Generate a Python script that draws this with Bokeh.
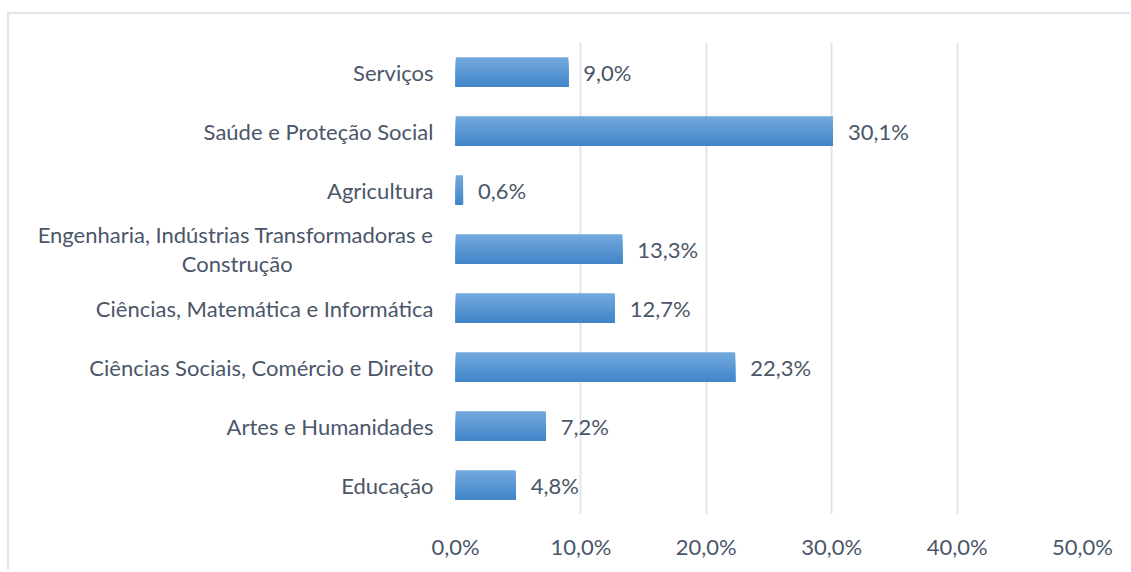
from bokeh.plotting import figure
from bokeh.models import ColumnDataSource, Range1d, FactorRange, FixedTicker, LabelSet
from bokeh.transform import dodge
from bokeh.embed import file_html
from bokeh.resources import INLINE
from bokeh.core.properties import value

NBSP = "\u00a0"
categories = [
    "Educação",
    "Artes e Humanidades",
    "Ciências Sociais, Comércio e Direito",
    "Ciências, Matemática e Informática",
    "Engenharia, Indústrias Transformadoras e\nConstrução" + NBSP * 25,
    "Agricultura",
    "Saúde e Proteção Social",
    "Serviços",
]
values = [4.8, 7.2, 22.3, 12.7, 13.3, 0.6, 30.1, 9.0]
value_labels = ["4,8%", "7,2%", "22,3%", "12,7%", "13,3%", "0,6%", "30,1%", "9,0%"]
x_ticks = [0, 10, 20, 30, 40, 50]
x_tick_labels = ["0,0%", "10,0%", "20,0%", "30,0%", "40,0%", "50,0%"]

FONT = "Lato"
FSIZE = "22px"
TEXT_COLOR = "#4b5669"
GRID_COLOR = "#e1e5ea"

source = ColumnDataSource(dict(cat=categories, val=values, lab=value_labels))

p = figure(
    y_range=FactorRange(factors=categories),
    x_range=Range1d(0, 50),
    frame_width=627,
    frame_height=472,
    min_border_left=446,
    min_border_top=28,
    min_border_right=48,
    min_border_bottom=56,
    output_backend="svg",
    toolbar_location=None,
    styles={"border-top": "2px solid #e1e5ea", "border-left": "2px solid #e1e5ea",
            "margin-top": "12px", "margin-left": "7px"},
)
p.outline_line_color = None
p.background_fill_color = "white"
p.border_fill_color = "white"

# gradient bars: overlapping strips from light (top) to dark (bottom)
top_rgb = (0x72, 0xA8, 0xDD)
bot_rgb = (0x42, 0x86, 0xC9)
n_strips = 14
bar_h = 0.5
step = bar_h / n_strips
for i in range(n_strips):
    t = i / (n_strips - 1)
    rgb = tuple(int(round(a + (b - a) * t)) for a, b in zip(top_rgb, bot_rgb))
    color = "#%02x%02x%02x" % rgb
    h = bar_h - i * step
    off = -(i * step) / 2
    p.hbar(y=dodge("cat", off, range=p.y_range), right="val", left=0, height=h,
           source=source, fill_color=color, line_color=None)

labels = LabelSet(x="val", y="cat", text="lab", source=source, x_offset=15,
                  text_baseline="middle", text_align="left",
                  text_font=value(FONT), text_font_size=FSIZE, text_color=TEXT_COLOR)
p.add_layout(labels)

p.xaxis.ticker = FixedTicker(ticks=x_ticks)
p.xaxis.major_label_overrides = {t: l for t, l in zip(x_ticks, x_tick_labels)}
p.xaxis.axis_line_color = None
p.xaxis.major_tick_line_color = None
p.xaxis.minor_tick_line_color = None
p.xaxis.major_tick_out = 0
p.xaxis.major_label_standoff = 18
p.xaxis.major_label_text_font = FONT
p.xaxis.major_label_text_font_size = FSIZE
p.xaxis.major_label_text_color = TEXT_COLOR

p.yaxis.axis_line_color = None
p.yaxis.major_tick_line_color = None
p.yaxis.major_tick_out = 0
p.yaxis.major_label_standoff = 22
p.yaxis.major_label_text_font = FONT
p.yaxis.major_label_text_font_size = FSIZE
p.yaxis.major_label_text_color = TEXT_COLOR
p.yaxis.major_label_text_line_height = 1.05

p.xgrid.grid_line_color = GRID_COLOR
p.xgrid.grid_line_width = 2
p.ygrid.grid_line_color = None

open("out.html", "w").write(file_html(p, INLINE))
